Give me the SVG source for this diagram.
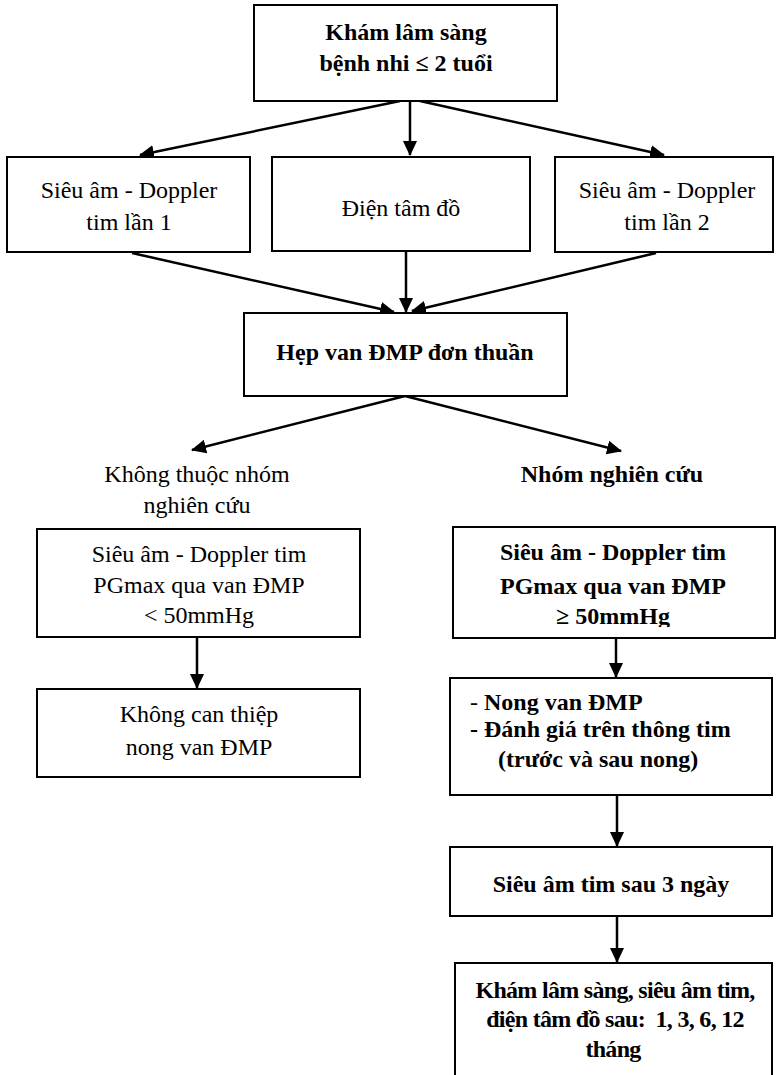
<svg xmlns="http://www.w3.org/2000/svg" width="779" height="1075" viewBox="0 0 779 1075">
  <style>
    .box { fill: #ffffff; stroke: #000000; stroke-width: 2; }
    .t { font-family: "Liberation Serif", "Times New Roman", serif; font-size: 24px; fill: #000000; }
    .c { text-anchor: middle; }
    .b { font-weight: bold; }
    .cond { letter-spacing: -0.7px; }
    .pre { white-space: pre; }
    .link { fill: none; stroke: #000000; stroke-width: 2.5; marker-end: url(#arrow); }
  </style>
  <defs>
    <marker id="arrow" markerUnits="userSpaceOnUse" markerWidth="15" markerHeight="14" refX="14" refY="7" orient="auto">
      <path d="M0,0 L15,7 L0,14 Z" fill="#000000"/>
    </marker>
    <!-- the last line of the right-hand PG box is cut by its frame -->
    <clipPath id="clipA">
      <rect x="453" y="527" width="322" height="100"/>
    </clipPath>
  </defs>
  <rect width="779" height="1075" fill="#ffffff"/>

  <!-- connectors -->
  <g id="connectors">
    <line class="link" x1="400" y1="101" x2="140" y2="155"/>
    <line class="link" x1="410" y1="101" x2="410" y2="155"/>
    <line class="link" x1="420" y1="101" x2="664" y2="155"/>
    <line class="link" x1="132" y1="253" x2="394" y2="312"/>
    <line class="link" x1="406" y1="252" x2="406" y2="312"/>
    <line class="link" x1="656" y1="253" x2="412" y2="311"/>
    <line class="link" x1="405" y1="396" x2="192" y2="450"/>
    <line class="link" x1="405" y1="396" x2="621" y2="451"/>
    <line class="link" x1="197" y1="637" x2="197" y2="688"/>
    <line class="link" x1="616" y1="638" x2="616" y2="677"/>
    <line class="link" x1="617" y1="795" x2="617" y2="846"/>
    <line class="link" x1="617" y1="916" x2="617" y2="962"/>
  </g>

  <g id="kham-ban-dau">
    <rect class="box" x="254" y="5" width="303" height="96"/>
    <text class="t b c" x="406" y="40">Khám lâm sàng</text>
    <text class="t b c" x="406" y="71">bệnh nhi ≤ 2 tuổi</text>
  </g>

  <g id="sieu-am-1">
    <rect class="box" x="7" y="157" width="243" height="95"/>
    <text class="t c" x="129" y="198">Siêu âm - Doppler</text>
    <text class="t c" x="129" y="230">tim lần 1</text>
  </g>

  <g id="dien-tam-do">
    <rect class="box" x="272" y="157" width="258" height="94"/>
    <text class="t c" x="401" y="216">Điện tâm đồ</text>
  </g>

  <g id="sieu-am-2">
    <rect class="box" x="555" y="157" width="218" height="95"/>
    <text class="t c" x="667" y="198">Siêu âm - Doppler</text>
    <text class="t c" x="667" y="230">tim lần 2</text>
  </g>

  <g id="hep-van">
    <rect class="box" x="244" y="313" width="323" height="83"/>
    <text class="t b c" x="405" y="360">Hẹp van ĐMP đơn thuần</text>
  </g>

  <g id="khong-thuoc-nhom">
    <text class="t c" x="197" y="482">Không thuộc nhóm</text>
    <text class="t c" x="197" y="513">nghiên cứu</text>
  </g>

  <g id="nhom-nghien-cuu">
    <text class="t b c" x="612" y="482">Nhóm nghiên cứu</text>
  </g>

  <g id="pg-duoi-50">
    <rect class="box" x="37" y="529" width="323" height="108"/>
    <text class="t c" x="199" y="562">Siêu âm - Doppler tim</text>
    <text class="t c" x="199" y="593">PGmax qua van ĐMP</text>
    <text class="t c" x="199" y="623">&lt; 50mmHg</text>
  </g>

  <g id="khong-can-thiep">
    <rect class="box" x="37" y="689" width="323" height="88"/>
    <text class="t c" x="199" y="722">Không can thiệp</text>
    <text class="t c" x="199" y="755">nong van ĐMP</text>
  </g>

  <g id="pg-tren-50">
    <rect class="box" x="453" y="527" width="322" height="111"/>
    <text class="t b c" x="613" y="560">Siêu âm - Doppler tim</text>
    <text class="t b c" x="613" y="594">PGmax qua van ĐMP</text>
    <text class="t b c" x="613" y="624" clip-path="url(#clipA)">≥ 50mmHg</text>
  </g>

  <g id="nong-van">
    <rect class="box" x="450" y="678" width="322" height="117"/>
    <text class="t" x="470" y="710">- <tspan class="b">Nong van ĐMP</tspan></text>
    <text class="t b" x="470" y="737">- Đánh giá trên thông tim</text>
    <text class="t b" x="498" y="767">(trước và sau nong)</text>
  </g>

  <g id="sieu-am-3-ngay">
    <rect class="box" x="450" y="847" width="322" height="69"/>
    <text class="t b c" x="611" y="892">Siêu âm tim sau 3 ngày</text>
  </g>

  <g id="theo-doi">
    <rect class="box" x="455" y="963" width="317" height="130"/>
    <text class="t b c cond" x="615" y="998">Khám lâm sàng, siêu âm tim,</text>
    <text class="t b c cond pre" x="615" y="1027" xml:space="preserve">điện tâm đồ sau:  1, 3, 6, 12</text>
    <text class="t b c cond" x="613" y="1057">tháng</text>
  </g>
</svg>
